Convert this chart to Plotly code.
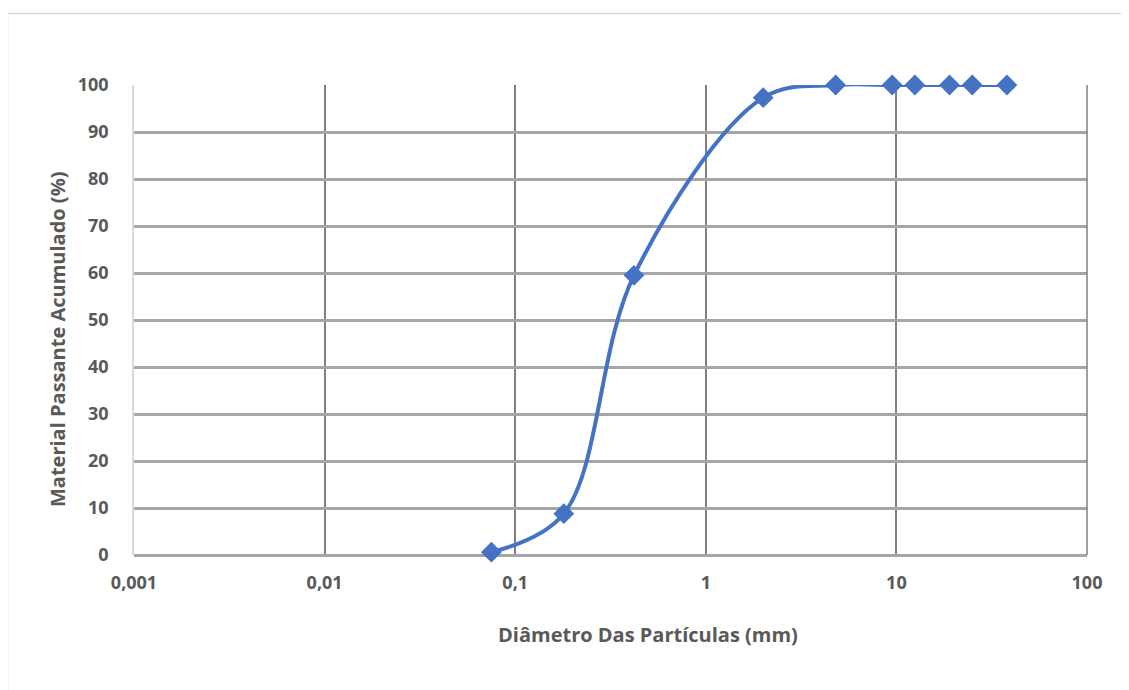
import plotly.graph_objects as go

diametro_mm = [0.075, 0.18, 0.42, 2.0, 4.8, 9.5, 12.5, 19.0, 25.0, 38.0]
passante_pct = [0.6, 8.8, 59.5, 97.3, 100, 100, 100, 100, 100, 100]

x_tickvals = [0.001, 0.01, 0.1, 1, 10, 100]
x_ticktext = ["0,001", "0,01", "0,1", "1", "10", "100"]
y_tickvals = list(range(0, 101, 10))

OFF = 8  # page body margin
W, H = 1129, 690
L, T = 134 - OFF, 85 - OFF
R = (W + OFF) - 1087
B = (H + OFF) - 555
pw, ph = W - L - R, H - T - B

font_fam = "'Open Sans', Lato, sans-serif"
txt_col = "#595959"
FS = 18
FT = 20

fig = go.Figure()
fig.add_trace(go.Scatter(
    x=diametro_mm, y=passante_pct, mode="lines+markers",
    line=dict(color="#4472c4", width=4, shape="spline", smoothing=1),
    marker=dict(symbol="diamond", size=16, color="#4472c4"),
    showlegend=False, cliponaxis=False,
))

def px2x(px):
    return (px - OFF - L) / pw

def px2y(py):
    return (H + OFF - B - py) / ph

fig.update_layout(
    width=W, height=H,
    margin=dict(l=L, r=R, t=T, b=B),
    paper_bgcolor="white", plot_bgcolor="white",
    font=dict(family=font_fam, color=txt_col),
    xaxis=dict(
        type="log", range=[-3, 2],
        tickvals=x_tickvals, ticktext=x_ticktext,
        showgrid=True, gridcolor="#808080", gridwidth=1.5,
        showline=False, zeroline=False, ticks="",
        tickfont=dict(size=FS, family=font_fam, color=txt_col, weight="bold"),
        ticklabelstandoff=15,
    ),
    yaxis=dict(
        range=[0, 100], tickvals=y_tickvals,
        showgrid=True, gridcolor="#a6a6a6", gridwidth=3,
        zeroline=True, zerolinecolor="#a6a6a6", zerolinewidth=3,
        showline=True, linecolor="#d9d9d9", linewidth=1.5,
        ticks="",
        tickfont=dict(size=FS, family=font_fam, color=txt_col, weight="bold"),
        ticklabelstandoff=20,
    ),
    shapes=[
        dict(type="rect", xref="paper", yref="paper",
             x0=px2x(7.5), x1=px2x(1160), y0=px2y(720), y1=px2y(13.5),
             line=dict(color="#d9d9d9", width=1.5), layer="below"),
        dict(type="line", xref="paper", yref="paper",
             x0=1, x1=1, y0=0, y1=1, line=dict(color="#808080", width=1.5)),
    ],
    annotations=[
        dict(text="Diâmetro Das Partículas (mm)", xref="paper", yref="paper",
             x=px2x(648), y=px2y(634), xanchor="center", yanchor="middle",
             showarrow=False,
             font=dict(size=FT, family=font_fam, color=txt_col, weight="bold")),
        dict(text="Material Passante Acumulado (%)", xref="paper", yref="paper",
             x=px2x(57), y=px2y(340), xanchor="center", yanchor="middle",
             showarrow=False, textangle=-90,
             font=dict(size=FT, family=font_fam, color=txt_col, weight="bold")),
    ],
)

fig.write_html("out.html")
